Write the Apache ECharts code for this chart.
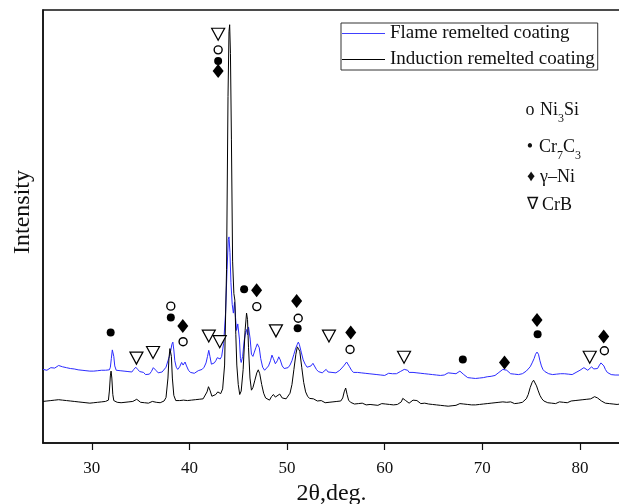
<!DOCTYPE html>
<html>
<head>
<meta charset="utf-8">
<script src="https://cdn.jsdelivr.net/npm/echarts@6/dist/echarts.min.js"></script>
<style>html,body{margin:0;padding:0;background:#fff;}#c{width:619px;height:504px;}</style>
</head>
<body>
<div id="c"></div>
<script>
// x ticks
const xTicks = [30, 40, 50, 60, 70, 80];
const seriesNames = ['Flame remelted coating', 'Induction remelted coating'];

// Flame remelted coating [2theta, intensity]
const flameData = [
[25.0,170],[25.2,173],[25.4,168],[25.6,171],[25.8,174],[26.0,170],[26.2,173],[26.4,176],[26.6,179],[26.8,181],
[27.0,176],[27.2,178],[27.4,174],[27.6,177],[27.8,172],[28.0,175],[28.2,171],[28.4,173],[28.6,169],[28.8,172],
[29.0,168],[29.2,171],[29.4,167],[29.6,170],[29.8,166],[30.0,169],[30.2,166],[30.4,170],[30.6,167],[30.8,165],
[31.0,168],[31.2,165],[31.4,168],[31.6,166],[31.8,169],[31.9,175],[32.0,195],[32.1,215],[32.17,219],[32.25,200],
[32.35,178],[32.5,168],[32.7,165],[32.9,167],[33.1,163],[33.3,166],[33.5,162],[33.7,165],[33.9,161],[34.1,164],
[34.3,170],[34.5,175],[34.7,170],[34.9,165],[35.1,161],[35.3,163],[35.5,158],[35.7,161],[35.9,159],[36.1,165],
[36.3,174],[36.45,176],[36.6,167],[36.8,162],[37.0,160],[37.2,164],[37.4,168],[37.6,175],[37.8,190],[37.95,200],
[38.1,215],[38.2,228],[38.3,233],[38.4,215],[38.5,190],[38.65,175],[38.8,170],[39.0,176],[39.2,186],[39.35,180],
[39.55,187],[39.7,178],[39.9,168],[40.1,163],[40.3,165],[40.5,161],[40.7,164],[40.9,167],[41.1,165],[41.3,170],
[41.5,175],[41.7,185],[41.85,200],[41.98,214],[42.1,200],[42.25,182],[42.4,180],[42.55,185],[42.7,190],[42.85,197],
[43.0,199],[43.15,194],[43.3,200],[43.5,230],[43.7,300],[43.85,400],[43.98,470],[44.05,476],[44.15,440],[44.25,370],
[44.38,320],[44.5,300],[44.62,325],[44.72,290],[44.82,260],[44.95,275],[45.02,279],[45.12,240],[45.22,195],[45.3,186],
[45.45,200],[45.6,235],[45.75,255],[45.85,262],[45.95,250],[46.05,268],[46.12,272],[46.22,240],[46.35,205],[46.5,200],
[46.65,210],[46.8,220],[46.95,229],[47.05,231],[47.15,220],[47.3,195],[47.5,175],[47.7,168],[47.9,172],[48.1,178],
[48.3,190],[48.45,203],[48.6,195],[48.8,183],[49.0,190],[49.15,199],[49.3,192],[49.5,178],[49.7,172],[49.9,168],
[50.1,174],[50.3,180],[50.5,190],[50.7,205],[50.9,220],[51.05,228],[51.15,233],[51.25,228],[51.45,210],[51.65,192],
[51.85,182],[52.05,175],[52.25,172],[52.45,178],[52.65,184],[52.8,180],[53.0,170],[53.2,165],[53.4,168],[53.6,162],
[53.8,165],[54.0,170],[54.2,164],[54.4,160],[54.6,163],[54.8,166],[55.0,162],[55.2,165],[55.4,168],[55.6,172],
[55.8,178],[55.95,182],[56.1,187],[56.25,185],[56.4,176],[56.6,168],[56.8,163],[57.0,160],[57.2,163],[57.4,159],
[57.6,162],[57.8,158],[58.0,161],[58.2,157],[58.4,160],[58.6,156],[58.8,159],[59.0,155],[59.2,158],[59.4,160],
[59.6,157],[59.8,159],[60.0,156],[60.2,158],[60.4,161],[60.6,158],[60.8,160],[61.0,157],[61.2,160],[61.4,162],
[61.6,165],[61.8,167],[62.0,170],[62.2,174],[62.35,168],[62.5,163],[62.7,160],[62.9,163],[63.1,166],[63.3,162],
[63.5,158],[63.7,161],[63.9,157],[64.1,160],[64.3,156],[64.5,159],[64.7,162],[64.9,158],[65.1,161],[65.3,157],
[65.5,160],[65.7,156],[65.9,159],[66.1,157],[66.3,160],[66.5,162],[66.7,159],[66.9,161],[67.1,158],[67.3,160],
[67.5,163],[67.7,166],[67.9,162],[68.1,158],[68.3,154],[68.5,151],[68.7,154],[68.9,150],[69.1,152],[69.3,149],
[69.5,152],[69.7,150],[69.9,153],[70.1,151],[70.3,155],[70.5,153],[70.7,156],[70.9,154],[71.1,158],[71.3,156],
[71.5,160],[71.7,163],[71.9,167],[72.1,170],[72.3,172],[72.5,168],[72.7,164],[72.9,160],[73.1,157],[73.3,159],
[73.5,155],[73.7,158],[73.9,156],[74.1,160],[74.3,163],[74.5,166],[74.7,170],[74.9,176],[75.1,185],[75.3,195],
[75.45,205],[75.6,210],[75.75,205],[75.9,190],[76.05,178],[76.2,170],[76.4,165],[76.6,162],[76.8,160],[77.0,162],
[77.2,158],[77.4,161],[77.6,159],[77.8,162],[78.0,160],[78.2,163],[78.4,160],[78.6,162],[78.8,159],[79.0,161],
[79.2,158],[79.4,161],[79.6,163],[79.8,165],[80.0,168],[80.2,170],[80.4,174],[80.6,170],[80.8,168],[81.0,172],
[81.2,176],[81.4,171],[81.6,167],[81.8,172],[82.0,180],[82.15,185],[82.3,186],[82.45,178],[82.6,170],[82.8,163],
[83.0,160],[83.2,158],[83.4,161],[83.6,157],[83.8,160],[84.0,157],[84.1,158]
];

// Induction remelted coating [2theta, intensity]
const inductionData = [
[25.0,96],[25.2,94],[25.4,97],[25.6,95],[25.8,98],[26.0,96],[26.2,99],[26.4,97],[26.6,100],[26.8,102],
[27.0,99],[27.2,101],[27.4,98],[27.6,100],[27.8,97],[28.0,99],[28.2,96],[28.4,98],[28.6,95],[28.8,97],
[29.0,94],[29.2,96],[29.4,93],[29.6,95],[29.8,92],[30.0,95],[30.2,93],[30.4,96],[30.6,94],[30.8,92],
[31.0,95],[31.2,93],[31.4,96],[31.6,95],[31.7,99],[31.8,120],[31.9,155],[31.97,166],[32.05,150],[32.15,112],
[32.25,98],[32.4,96],[32.6,94],[32.8,97],[33.0,93],[33.2,96],[33.4,94],[33.6,92],[33.8,95],[34.0,93],
[34.2,96],[34.4,98],[34.6,101],[34.8,97],[35.0,94],[35.2,91],[35.4,93],[35.6,89],[35.8,92],[36.0,90],
[36.2,96],[36.4,100],[36.6,94],[36.8,91],[37.0,93],[37.2,95],[37.4,97],[37.6,105],[37.8,150],[37.9,195],
[38.0,218],[38.05,222],[38.15,200],[38.25,150],[38.4,110],[38.6,98],[38.8,96],[39.0,98],[39.2,101],[39.4,99],
[39.6,102],[39.8,98],[40.0,96],[40.2,99],[40.4,97],[40.6,100],[40.8,98],[41.0,101],[41.2,99],[41.4,102],
[41.6,105],[41.8,118],[41.95,130],[42.1,122],[42.3,108],[42.5,107],[42.7,112],[42.9,118],[43.05,119],[43.2,114],
[43.4,125],[43.6,180],[43.8,400],[43.95,800],[44.05,950],[44.12,966],[44.2,900],[44.3,700],[44.42,420],[44.55,345],
[44.65,330],[44.75,250],[44.85,180],[45.0,135],[45.15,112],[45.3,120],[45.5,170],[45.7,260],[45.85,300],[45.95,285],
[46.05,220],[46.2,150],[46.35,122],[46.5,128],[46.7,145],[46.9,162],[47.05,169],[47.2,160],[47.4,135],[47.6,115],
[47.8,104],[48.0,101],[48.2,99],[48.4,107],[48.6,112],[48.8,106],[49.0,108],[49.25,113],[49.5,104],[49.7,100],
[49.9,102],[50.1,106],[50.3,115],[50.5,135],[50.7,170],[50.9,205],[51.05,222],[51.15,226],[51.3,212],[51.5,175],
[51.7,140],[51.9,118],[52.1,108],[52.3,103],[52.5,100],[52.7,102],[52.9,99],[53.1,97],[53.3,96],[53.5,98],
[53.7,95],[53.9,93],[54.1,96],[54.3,94],[54.5,92],[54.7,95],[54.9,93],[55.1,96],[55.3,94],[55.5,97],
[55.7,104],[55.85,118],[56.0,127],[56.15,112],[56.3,99],[56.5,94],[56.7,92],[56.9,90],[57.1,93],[57.3,91],
[57.5,89],[57.7,92],[57.9,90],[58.1,88],[58.3,91],[58.5,89],[58.7,92],[58.9,88],[59.1,90],[59.3,87],
[59.5,89],[59.7,91],[59.9,88],[60.1,90],[60.3,87],[60.5,89],[60.7,91],[60.9,88],[61.1,90],[61.3,89],
[61.5,92],[61.7,95],[61.85,103],[62.0,106],[62.15,98],[62.3,94],[62.5,92],[62.7,95],[62.9,99],[63.1,101],
[63.3,98],[63.5,94],[63.7,91],[63.9,89],[64.1,92],[64.3,88],[64.5,90],[64.7,87],[64.9,89],[65.1,86],
[65.3,88],[65.5,90],[65.7,87],[65.9,89],[66.1,86],[66.3,88],[66.5,85],[66.7,88],[66.9,86],[67.1,89],
[67.3,87],[67.5,90],[67.7,91],[67.9,88],[68.1,90],[68.3,87],[68.5,89],[68.7,86],[68.9,88],[69.1,85],
[69.3,88],[69.5,86],[69.7,89],[69.9,87],[70.1,90],[70.3,88],[70.5,91],[70.7,89],[70.9,92],[71.1,90],
[71.3,93],[71.5,91],[71.7,94],[71.9,92],[72.1,95],[72.3,97],[72.5,94],[72.7,92],[72.9,95],[73.1,93],
[73.3,91],[73.5,94],[73.7,92],[73.9,95],[74.1,94],[74.3,97],[74.5,102],[74.7,112],[74.9,128],[75.1,140],
[75.25,145],[75.4,141],[75.55,132],[75.7,122],[75.9,110],[76.1,102],[76.3,97],[76.5,95],[76.7,93],[76.9,95],
[77.1,92],[77.3,94],[77.5,91],[77.7,93],[77.9,95],[78.1,92],[78.3,94],[78.5,96],[78.7,93],[78.9,95],
[79.1,97],[79.3,95],[79.5,98],[79.7,96],[79.9,99],[80.1,97],[80.3,100],[80.5,98],[80.7,101],[80.9,99],
[81.1,102],[81.3,104],[81.5,107],[81.65,108],[81.8,104],[82.0,100],[82.2,97],[82.4,94],[82.6,92],[82.8,94],
[83.0,91],[83.2,93],[83.4,90],[83.6,92],[83.8,89],[84.0,91],[84.1,90]
];

// phase markers [2theta, intensity]
const ni3siMarks = [[42.94,908],[38.09,316],[39.35,234],[46.9,315],[51.14,288],[56.45,216],[82.5,213]];
const cr7c3Marks = [[42.94,882],[31.93,255],[38.09,290],[45.6,355],[51.08,265],[68.0,193],[75.66,251]];
const gammaNiMarks = [[42.94,859],[39.32,270],[46.88,353],[50.98,328],[56.52,255],[72.27,186],[75.6,284],[82.43,246]];
const crbMarks = [[42.94,944],[34.57,196],[36.27,209],[41.98,247],[43.1,234],[48.86,259],[54.29,247],[61.98,198],[81.0,198]];

// phase legend: glyph + formula parts [text, isSubscript]
const phaseLegend = [
  {glyph: 'o', parts: [['Ni', 0], ['3', 1], ['Si', 0]]},
  {glyph: '•', parts: [['Cr', 0], ['7', 1], ['C', 0], ['3', 1]]},
  {glyph: '♦', parts: [['γ–Ni', 0]]},
  {glyph: '∇', parts: [['CrB', 0]]}
];

const serif = '"Liberation Serif", "Times New Roman", serif';
const chart = echarts.init(document.getElementById('c'), null, {renderer: 'canvas'});

const mctx = document.createElement('canvas').getContext('2d');
function textW(t, size) { mctx.font = size + 'px ' + serif; return mctx.measureText(t).width; }

// layout of phase legend (positions are layout, not data)
const legRowsY = [110, 147, 177, 205];
const legGlyphX = [530, 530, 531, 532];
const legGlyphSize = [18, 18, 16, 17];
const legTextX = [540, 539, 540, 542];
const graphics = [
  {type: 'text', x: 23, y: 212, rotation: Math.PI / 2,
   style: {text: 'Intensity', font: '24px ' + serif, fill: '#111', align: 'center', verticalAlign: 'middle'}}
];
phaseLegend.forEach(function (row, i) {
  graphics.push({type: 'text', x: legGlyphX[i], y: legRowsY[i],
    style: {text: row.glyph, font: legGlyphSize[i] + 'px ' + serif, fill: '#111', align: 'center', verticalAlign: 'middle'}});
  let x = legTextX[i];
  row.parts.forEach(function (p) {
    const size = p[1] ? 12 : 18;
    graphics.push({type: 'text', x: x, y: legRowsY[i] + (p[1] ? 9 : 0),
      style: {text: p[0], font: size + 'px ' + serif, fill: '#111', align: 'left', verticalAlign: 'middle'}});
    x += textW(p[0], size);
  });
});

function markSeries(name, data, symbol, size, style) {
  style.opacity = 1;
  return {
    name: name, type: 'scatter', data: data, symbol: symbol, symbolSize: size,
    itemStyle: style, z: 5, silent: true
  };
}

const option = {
  animation: false,
  backgroundColor: '#fff',
  grid: {left: 43, top: 10, width: 577, height: 433, show: true, borderColor: '#111', borderWidth: 1.5,
         backgroundColor: 'transparent', containLabel: false, outerBoundsMode: 'none'},
  xAxis: {
    type: 'value', min: 25, max: 84.1,
    axisLine: {show: true, lineStyle: {color: '#111', width: 1.5}},
    axisTick: {show: true, customValues: xTicks, length: 7, lineStyle: {color: '#111', width: 1.2}},
    axisLabel: {customValues: xTicks, margin: 17, fontSize: 17, fontFamily: serif, color: '#111'},
    splitLine: {show: false},
    name: '2θ,deg.', nameLocation: 'middle', nameGap: 36,
    nameTextStyle: {fontSize: 24, fontFamily: serif, color: '#111'}
  },
  yAxis: {
    type: 'value', min: 0, max: 1000,
    axisLine: {show: true, lineStyle: {color: '#111', width: 1.5}},
    axisTick: {show: false}, axisLabel: {show: false}, splitLine: {show: false}
  },
  legend: {
    data: [{name: seriesNames[0], itemStyle: {color: '#4040ff'}}, {name: seriesNames[1], itemStyle: {color: '#000'}}],
    orient: 'vertical', left: 341, top: 23,
    padding: [0, 3, 0, 1], itemGap: 5, itemWidth: 43, itemHeight: 1,
    icon: 'rect',
    borderColor: '#333', borderWidth: 1,
    textStyle: {fontSize: 19, fontFamily: serif, color: '#111', lineHeight: 21}
  },
  series: [
    {name: seriesNames[0], type: 'line', data: flameData, showSymbol: false, symbol: 'none',
     lineStyle: {color: '#2b2bff', width: 1}, itemStyle: {color: '#2b2bff'}, z: 2},
    {name: seriesNames[1], type: 'line', data: inductionData, showSymbol: false, symbol: 'none',
     lineStyle: {color: '#000', width: 1}, itemStyle: {color: '#000'}, z: 3},
    markSeries('Ni3Si', ni3siMarks, 'circle', [8, 8], {color: '#fff', borderColor: '#000', borderWidth: 1.4}),
    markSeries('Cr7C3', cr7c3Marks, 'circle', 8, {color: '#000'}),
    markSeries('gNi', gammaNiMarks, 'diamond', [11, 14], {color: '#000'}),
    markSeries('CrB', crbMarks, 'path://M0,0L12,0L6,11Z', [13, 12], {color: '#fff', borderColor: '#000', borderWidth: 1.2})
  ],
  graphic: graphics
};
chart.setOption(option);
</script>
</body>
</html>
